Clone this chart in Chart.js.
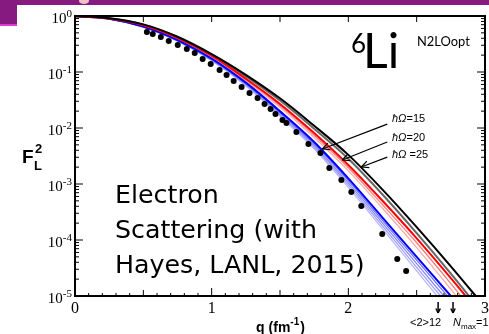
<!DOCTYPE html>
<html>
<head>
<meta charset="utf-8">
<script src="https://cdn.jsdelivr.net/npm/chart.js@4.4.1/dist/chart.umd.min.js"></script>
<style>
  html, body { margin: 0; padding: 0; background: #fff; }
  #caja { width: 489px; height: 334px; position: relative; }
</style>
</head>
<body>
<div id="caja"><canvas id="miGrafico"></canvas></div>
<script>
// malla de q (fm^-1) donde se leyeron las curvas
const qMalla = [0, 0.25, 0.5, 0.75, 1.0, 1.25, 1.5, 1.75, 2.0, 2.25, 2.5, 2.75, 3.0];

// log10(F_L^2) leido sobre cada curva
const logNegro = [0, -0.04, -0.15, -0.37, -0.68, -1.05, -1.47, -1.96, -2.48, -3.10, -3.77, -4.47, -5.20];
const logGris = [0, -0.041, -0.154, -0.38, -0.697, -1.077, -1.509, -2.013, -2.549, -3.187, -3.877, -4.60, -5.355];
const logRojo = [0, -0.045, -0.165, -0.39, -0.71, -1.12, -1.57, -2.09, -2.66, -3.30, -3.97, -4.68, -5.42];
const logRosa1 = [0, -0.046, -0.169, -0.398, -0.723, -1.14, -1.60, -2.13, -2.71, -3.37, -4.05, -4.78, -5.54];
const logRosa2 = [0, -0.047, -0.172, -0.405, -0.736, -1.161, -1.63, -2.171, -2.766, -3.434, -4.135, -4.88, -5.658];
const logAzul = [0, -0.05, -0.19, -0.43, -0.76, -1.19, -1.70, -2.25, -2.90, -3.60, -4.30, -5.00, -5.70];
const logAzulClaro1 = [0, -0.05, -0.19, -0.435, -0.77, -1.20, -1.72, -2.28, -2.94, -3.65, -4.36, -5.07, -5.79];
const logAzulClaro2 = [0, -0.05, -0.195, -0.44, -0.78, -1.22, -1.74, -2.31, -2.98, -3.70, -4.42, -5.15, -5.88];
const logAzulClaro3 = [0, -0.05, -0.20, -0.44, -0.79, -1.23, -1.77, -2.34, -3.02, -3.75, -4.49, -5.22, -5.97];
const logAzulClaro4 = [0, -0.05, -0.20, -0.45, -0.80, -1.25, -1.79, -2.37, -3.06, -3.80, -4.55, -5.30, -6.06];

// datos experimentales
const qExp = [0.526, 0.569, 0.628, 0.686, 0.752, 0.818, 0.876, 0.934, 0.993, 1.058, 1.109, 1.161, 1.219, 1.277, 1.336,
  1.387, 1.431, 1.467, 1.518, 1.547, 1.620, 1.708, 1.796, 1.861, 1.949, 2.022, 2.095, 2.248, 2.358, 2.423];
const fExp = [0.518, 0.478, 0.422, 0.358, 0.303, 0.258, 0.218, 0.171, 0.139, 0.109, 0.0883, 0.0690, 0.0540, 0.0422, 0.0344,
  0.0269, 0.0218, 0.0178, 0.0139, 0.0123, 0.00849, 0.00518, 0.00358, 0.00193, 0.00118, 0.00072, 0.000405, 0.000128, 4.58e-5, 2.79e-5];

// ejes
const etiquetasX = [0, 1, 2, 3];
const exponentesY = [0, -1, -2, -3, -4, -5];

// flechas de hbar*Omega: origen y punta en (q, log10 F)
const etiquetasHw = ['=15', '=20', ' =25'];
const puntasHw = [[1.81, -2.375], [1.956, -2.571], [2.095, -2.696]];
const origenHw = [[2.285, -1.93], [2.285, -2.25], [2.285, -2.52]];
const qFlechasNmax = [2.657, 2.766];

function curva(logs) {
  return qMalla.map((q, i) => ({ x: q, y: Math.pow(10, logs[i]) }));
}

function serie(logs, color, ancho, orden) {
  return {
    data: curva(logs),
    showLine: true,
    borderColor: color,
    borderWidth: ancho,
    pointRadius: 0,
    cubicInterpolationMode: 'monotone',
    order: orden
  };
}

function linea(ctx, x1, y1, x2, y2) {
  ctx.beginPath();
  ctx.moveTo(x1, y1);
  ctx.lineTo(x2, y2);
  ctx.stroke();
}

function flecha(ctx, x1, y1, x2, y2, tam) {
  linea(ctx, x1, y1, x2, y2);
  const ang = Math.atan2(y2 - y1, x2 - x1);
  linea(ctx, x2, y2, x2 - tam * Math.cos(ang - 0.45), y2 - tam * Math.sin(ang - 0.45));
  linea(ctx, x2, y2, x2 - tam * Math.cos(ang + 0.45), y2 - tam * Math.sin(ang + 0.45));
}

const decoracion = {
  id: 'decoracion',
  beforeDraw(chart) {
    const ctx = chart.ctx;
    ctx.save();
    ctx.fillStyle = '#fff';
    ctx.fillRect(0, 0, chart.width, chart.height);
    // franja morada de la diapositiva
    ctx.fillStyle = '#861a80';
    ctx.fillRect(0, 0, chart.width, 5);
    ctx.fillRect(0, 0, 17, 24);
    ctx.fillStyle = '#e03ad6';
    ctx.fillRect(0, 24, 17, 2);
    ctx.fillStyle = 'rgba(255, 225, 215, 0.85)';
    ctx.beginPath();
    ctx.ellipse(84, 1, 5, 3, 0, 0, Math.PI * 2);
    ctx.fill();
    ctx.restore();
  },
  afterDraw(chart) {
    const ctx = chart.ctx, a = chart.chartArea;
    const sx = chart.scales.x, sy = chart.scales.y;
    ctx.save();
    ctx.strokeStyle = '#000';
    ctx.fillStyle = '#000';
    ctx.lineWidth = 1;

    // marcas del eje x
    for (let i = 0; i <= 30; i++) {
      const px = sx.getPixelForValue(i / 10);
      const largo = i % 10 === 0 ? 8 : (i % 5 === 0 ? 6 : 3);
      linea(ctx, px, a.bottom, px, a.bottom - largo);
      if (i % 5 === 0) linea(ctx, px, a.top, px, a.top + 6);
    }
    // marcas del eje y (log)
    exponentesY.forEach(e => {
      const py = sy.getPixelForValue(Math.pow(10, e));
      linea(ctx, a.left, py, a.left + 8, py);
      linea(ctx, a.right, py, a.right - 8, py);
      if (e > -5) {
        for (let m = 2; m <= 9; m++) {
          const pm = sy.getPixelForValue(m * Math.pow(10, e - 1));
          linea(ctx, a.left, pm, a.left + 4, pm);
          linea(ctx, a.right, pm, a.right - 4, pm);
        }
      }
    });
    ctx.lineWidth = 2;
    ctx.strokeRect(a.left, a.top, a.right - a.left, a.bottom - a.top);

    // etiquetas eje x
    ctx.font = '16px "Liberation Serif"';
    ctx.textAlign = 'center';
    ctx.textBaseline = 'alphabetic';
    etiquetasX.forEach(v => ctx.fillText(String(v), sx.getPixelForValue(v), 313));

    // etiquetas eje y: 10 con exponente
    ctx.textAlign = 'left';
    exponentesY.forEach(e => {
      const py = sy.getPixelForValue(Math.pow(10, e));
      ctx.font = '11px "Liberation Serif"';
      const exp = String(e);
      const we = ctx.measureText(exp).width;
      ctx.font = '15px "Liberation Serif"';
      const w10 = ctx.measureText('10').width;
      ctx.fillText('10', 72 - we - w10, py + 7);
      ctx.font = '11px "Liberation Serif"';
      ctx.fillText(exp, 72 - we, py + 1);
    });

    // titulo eje x: q (fm^-1)
    ctx.font = 'bold 14px "Liberation Sans"';
    const t1 = 'q (fm', t3 = ')';
    const w1 = ctx.measureText(t1).width, w3 = ctx.measureText(t3).width;
    ctx.font = 'bold 10px "Liberation Sans"';
    const w2 = ctx.measureText('-1').width;
    let xt = (a.left + a.right) / 2 - (w1 + w2 + w3) / 2;
    ctx.font = 'bold 14px "Liberation Sans"';
    ctx.fillText(t1, xt, 332);
    ctx.font = 'bold 10px "Liberation Sans"';
    ctx.fillText('-1', xt + w1, 325);
    ctx.font = 'bold 14px "Liberation Sans"';
    ctx.fillText(t3, xt + w1 + w2 + 1, 332);

    // titulo eje y: F_L^2
    ctx.font = 'bold 19px "Liberation Sans"';
    ctx.fillText('F', 22, 163);
    ctx.font = 'bold 13px "Liberation Sans"';
    ctx.fillText('2', 35, 153);
    ctx.fillText('L', 34, 170);

    // 6Li y N2LOopt
    ctx.font = '26px Lato';
    ctx.fillText('6', 351, 53);
    ctx.font = '48px Lato';
    ctx.fillText('Li', 363, 68);
    ctx.font = '12px Lato';
    const wn = ctx.measureText('N2LOopt').width;
    ctx.font = (12 * 53 / wn).toFixed(1) + 'px Lato';
    ctx.fillText('N2LOopt', 417, 46);

    // texto Electron Scattering
    const lineas = ['Electron', 'Scattering (with', 'Hayes, LANL, 2015)'];
    ctx.font = '24px "DejaVu Sans"';
    const wl = ctx.measureText(lineas[2]).width;
    ctx.font = (24 * 250 / wl).toFixed(1) + 'px "DejaVu Sans"';
    lineas.forEach((t, i) => ctx.fillText(t, 115, 203 + i * 35));

    // etiquetas hbar Omega con flechas
    ctx.lineWidth = 1.2;
    etiquetasHw.forEach((t, i) => {
      const x0 = sx.getPixelForValue(origenHw[i][0]);
      const y0 = sy.getPixelForValue(Math.pow(10, origenHw[i][1]));
      const x1 = sx.getPixelForValue(puntasHw[i][0]);
      const y1 = sy.getPixelForValue(Math.pow(10, puntasHw[i][1]));
      flecha(ctx, x0, y0, x1, y1, 8);
      ctx.font = 'italic 11px "Liberation Sans"';
      ctx.fillText('\u0127\u03A9', 392, [122, 141, 158][i]);
      const wh = ctx.measureText('\u0127\u03A9').width;
      ctx.font = '11px "Liberation Sans"';
      ctx.fillText(t, 392 + wh, [122, 141, 158][i]);
    });

    // flechas inferiores <2>12 y Nmax=12
    ctx.lineWidth = 1.5;
    qFlechasNmax.forEach(q => {
      const px = sx.getPixelForValue(q);
      flecha(ctx, px, a.bottom + 6, px, a.bottom + 17, 5);
    });
    ctx.font = '11px "Liberation Sans"';
    ctx.fillText('<2>12', 410, 326);
    ctx.font = 'italic 11px "Liberation Sans"';
    ctx.fillText('N', 453, 326);
    ctx.font = '8px "Liberation Sans"';
    ctx.fillText('max', 461, 329);
    ctx.font = '11px "Liberation Sans"';
    ctx.fillText('=12', 476, 326);

    ctx.restore();
  }
};

const ctx = document.getElementById('miGrafico').getContext('2d');
new Chart(ctx, {
  type: 'scatter',
  data: {
    datasets: [
      {
        data: qExp.map((q, i) => ({ x: q, y: fExp[i] })),
        pointRadius: 3,
        pointBackgroundColor: '#000',
        pointBorderWidth: 0,
        showLine: false,
        order: 0
      },
      serie(logNegro, '#000000', 2, 1),
      serie(logRojo, '#ff0000', 2, 1),
      serie(logAzul, '#0000ff', 2, 1),
      serie(logGris, '#666666', 2, 2),
      serie(logRosa1, '#ff7a7a', 1.3, 2),
      serie(logRosa2, '#ffaaaa', 1.3, 2),
      serie(logAzulClaro1, '#6a6aff', 1.2, 2),
      serie(logAzulClaro2, '#8484ff', 1.2, 2),
      serie(logAzulClaro3, '#9d9dff', 1.2, 2),
      serie(logAzulClaro4, '#b4b4ff', 1.2, 2)
    ]
  },
  options: {
    responsive: true,
    maintainAspectRatio: false,
    animation: false,
    layout: { padding: { left: 75, top: 16, right: 3, bottom: 38 } },
    plugins: { legend: { display: false }, tooltip: { enabled: false } },
    scales: {
      x: { type: 'linear', min: 0, max: 3, display: false },
      y: { type: 'logarithmic', min: 1e-5, max: 1, display: false }
    }
  },
  plugins: [decoracion]
});
</script>
</body>
</html>
